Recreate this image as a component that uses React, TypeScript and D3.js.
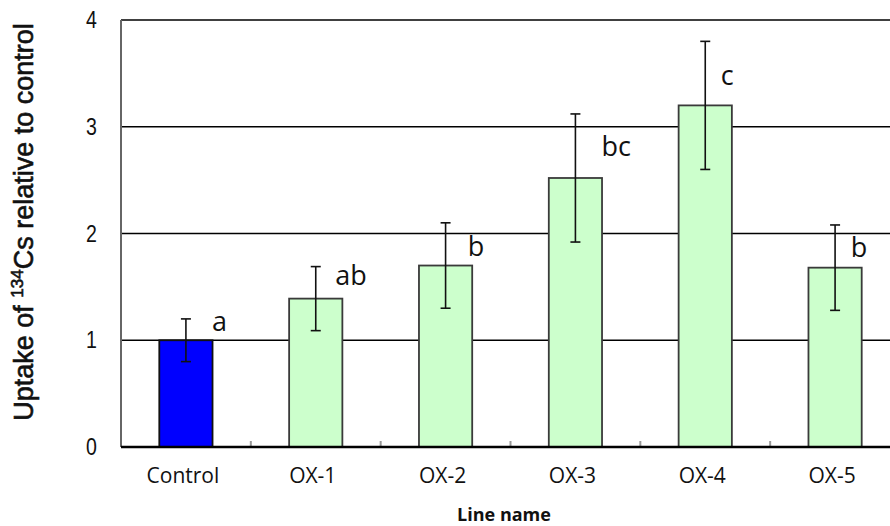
import React from "react";
import * as d3 from "d3";

const categories = ["Control", "OX-1", "OX-2", "OX-3", "OX-4", "OX-5"];
const values = [1.0, 1.39, 1.7, 2.52, 3.2, 1.68];
const errors = [0.2, 0.3, 0.4, 0.6, 0.6, 0.4];
const letters = ["a", "ab", "b", "bc", "c", "b"];
const letterValues = [1.09, 1.52, 1.79, 2.73, 3.39, 1.78];
const letterOffsets = [0.2, 0.15, 0.17, 0.2, 0.12, 0.12];
const yTicks = [0, 1, 2, 3, 4];
const colors = ["#0000FF", "#CCFFCC", "#CCFFCC", "#CCFFCC", "#CCFFCC", "#CCFFCC"];

const W = 890;
const H = 526;
const left = 121;
const right = 900;
const top = 20;
const bottom = 447;

export default function App() {
  const x = d3
    .scaleBand<string>()
    .domain(categories)
    .range([left, right])
    .paddingInner(0.59)
    .paddingOuter(0.295);
  const y = d3.scaleLinear().domain([0, 4]).range([bottom, top]);
  const step = x.step();
  const bw = x.bandwidth();
  const boundaries = categories.slice(1).map((_, i) => left + step * (i + 1));

  return (
    <svg
      width={W}
      height={H}
      style={{ position: "absolute", left: 0, top: 0, background: "#fff" }}
    >
      {/* gridlines */}
      {yTicks.slice(1).map((t) => (
        <line key={t} x1={left} x2={right} y1={y(t)} y2={y(t)} stroke="#000" strokeWidth={1.3} />
      ))}
      {/* bars */}
      {categories.map((c, i) => (
        <rect
          key={c}
          x={x(c)}
          y={y(values[i])}
          width={bw}
          height={y(0) - y(values[i])}
          fill={colors[i]}
          stroke={i === 0 ? "#111" : "#3a3a3a"}
          strokeWidth={1.8}
        />
      ))}
      {/* error bars */}
      {categories.map((c, i) => {
        const cx = (x(c) as number) + bw / 2;
        const y1 = y(values[i] + errors[i]);
        const y2 = y(values[i] - errors[i]);
        return (
          <g key={c} stroke="#111" strokeWidth={1.6}>
            <line x1={cx} x2={cx} y1={y1} y2={y2} />
            <line x1={cx - 5} x2={cx + 5} y1={y1} y2={y1} />
            <line x1={cx - 5} x2={cx + 5} y1={y2} y2={y2} />
          </g>
        );
      })}
      {/* significance letters */}
      {categories.map((c, i) => (
        <text
          key={c}
          x={(x(c) as number) + bw / 2 + letterOffsets[i] * step}
          y={y(letterValues[i])}
          fontFamily="Open Sans"
          fontSize={27}
          fill="#111"
        >
          {letters[i]}
        </text>
      ))}
      {/* axes */}
      <line x1={left} x2={left} y1={top} y2={bottom} stroke="#666" strokeWidth={2} />
      {boundaries.map((b, i) => (
        <line key={i} x1={b} x2={b} y1={bottom} y2={bottom - 6} stroke="#999" strokeWidth={2} />
      ))}
      <line x1={left} x2={right} y1={bottom} y2={bottom} stroke="#000" strokeWidth={2.5} />
      {/* y tick labels */}
      {yTicks.map((t) => (
        <text
          key={t}
          transform={`translate(97,${y(t) + 8}) scale(0.85,1)`}
          textAnchor="end"
          fontFamily="Liberation Sans"
          fontSize={23}
          fill="#111"
        >
          {t}
        </text>
      ))}
      {/* x tick labels */}
      {categories.map((c) => (
        <text
          key={c}
          x={(x(c) as number) + bw / 2 - 3}
          y={483}
          textAnchor="middle"
          fontFamily="Open Sans"
          fontSize={21}
          fill="#111"
        >
          {c}
        </text>
      ))}
      {/* axis titles */}
      <text
        x={504}
        y={521}
        textAnchor="middle"
        fontFamily="Open Sans"
        fontWeight="bold"
        fontSize={18}
        fill="#111"
      >
        Line name
      </text>
      <text
        transform="translate(33,222) rotate(-90)"
        textAnchor="middle"
        fontFamily="Liberation Sans"
        fontSize={27}
        fill="#111"
        stroke="#111"
        strokeWidth={0.6}
      >
        Uptake of <tspan fontSize={17} dy={-10}>134</tspan>
        <tspan dy={10}>Cs relative to control</tspan>
      </text>
    </svg>
  );
}
